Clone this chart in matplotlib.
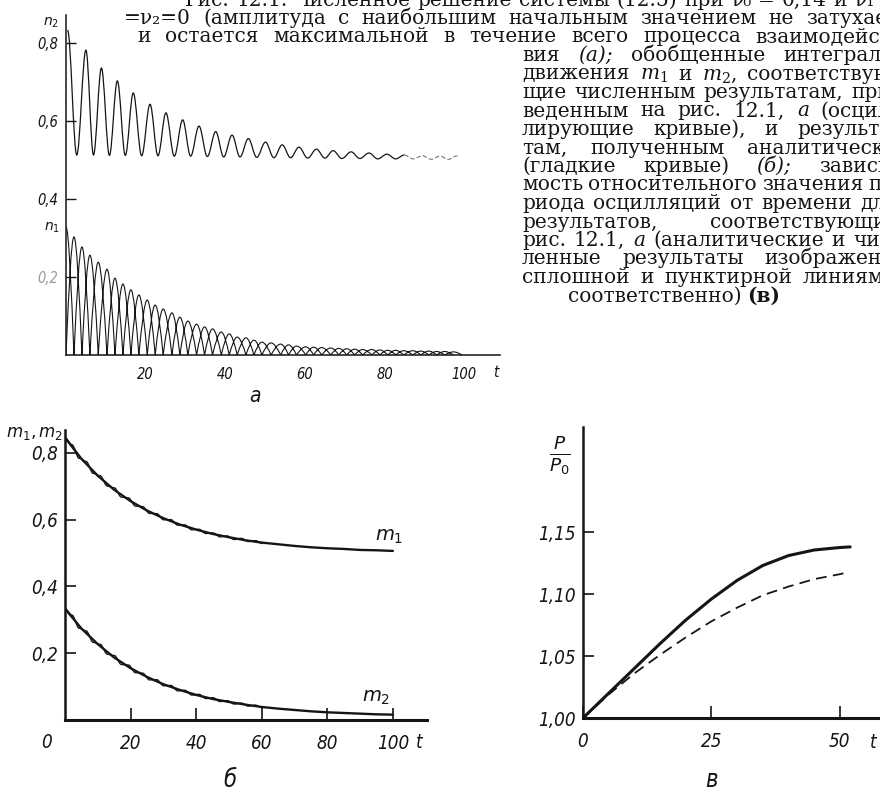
import matplotlib
matplotlib.use('Agg')
import matplotlib.pyplot as plt
from matplotlib import font_manager
from matplotlib.path import Path
from matplotlib.patches import PathPatch

W, H = 880, 795
INK = '#151515'

# ---- panel a: n2 (oscillation extrema) and n1 (lobe peaks)
n2_peak_t = [0.4, 5.0, 8.9, 12.9, 16.9, 21.1, 25.1, 29.3, 33.4, 37.6, 41.7, 45.8,
             50.1, 54.3, 58.5, 62.9, 67.1, 71.6, 76.1, 80.6, 85.0, 89.5, 93.9, 98.3]
n2_peak_v = [0.833, 0.782, 0.736, 0.703, 0.672, 0.643, 0.621, 0.603, 0.587, 0.573, 0.564, 0.555,
             0.546, 0.539, 0.533, 0.528, 0.524, 0.521, 0.518, 0.515, 0.513, 0.511, 0.510, 0.511]
n2_trough_t = [2.7, 6.9, 10.9, 14.9, 19.0, 23.1, 27.2, 31.3, 35.5, 39.6, 43.7, 47.9,
               52.2, 56.4, 60.7, 65.0, 69.3, 73.8, 78.3, 82.8, 87.2, 91.7, 96.1]
n2_trough_v = [0.513, 0.513, 0.512, 0.512, 0.511, 0.511, 0.510, 0.510, 0.509, 0.508, 0.508, 0.507,
               0.506, 0.506, 0.505, 0.505, 0.504, 0.504, 0.503, 0.503, 0.503, 0.502, 0.502]

n1_lobe_t = [0.0, 2.0, 4.0, 6.0, 8.1, 10.3, 12.3, 14.3, 16.3, 18.3, 20.4, 22.4, 24.4, 26.6, 28.6, 30.6,
             32.8, 34.8, 36.8, 39.0, 41.0, 43.0, 45.2, 47.2, 49.2, 51.5, 53.9, 55.9, 57.9, 60.2, 62.2, 64.2,
             66.5, 68.5, 70.5, 72.5, 74.5, 76.8, 78.8, 80.8, 82.8, 84.8, 87.1, 89.1, 91.1, 93.1, 95.1, 97.3]
n1_lobe_v = [0.328, 0.303, 0.277, 0.256, 0.238, 0.220, 0.197, 0.182, 0.167, 0.154,
             0.141, 0.128, 0.118, 0.108, 0.097, 0.087, 0.079, 0.072, 0.067, 0.059,
             0.054, 0.046, 0.044, 0.038, 0.033, 0.031, 0.028, 0.026, 0.023, 0.021,
             0.020, 0.019, 0.018, 0.017, 0.016, 0.015, 0.014, 0.014, 0.013, 0.012,
             0.012, 0.011, 0.011, 0.010, 0.010, 0.009, 0.009, 0.008]

# ---- panel b: smooth integrals m1, m2 and the wavy numerical ones
b_t = [0, 5, 10, 15, 20, 25, 30, 35, 40, 45, 50, 55, 60, 65, 70, 75, 80, 85, 90, 95, 100]
m1_smooth = [0.845, 0.782, 0.731, 0.689, 0.655, 0.627, 0.604, 0.585, 0.570, 0.557, 0.547,
             0.538, 0.531, 0.526, 0.521, 0.517, 0.514, 0.512, 0.509, 0.508, 0.506]
m2_smooth = [0.333, 0.274, 0.227, 0.187, 0.155, 0.129, 0.107, 0.090, 0.075, 0.063, 0.054,
             0.046, 0.039, 0.034, 0.030, 0.026, 0.023, 0.021, 0.019, 0.017, 0.016]
osc_t = [0, 2.15, 4.3, 6.45, 8.6, 10.75, 12.9, 15.05, 17.2, 19.35, 21.5, 23.65, 25.8, 27.95, 30.1,
         32.25, 34.4, 36.55, 38.7, 40.85, 43.0, 45.15, 47.3, 49.45, 51.6, 53.75, 55.9, 58.05, 60.2]
m1_osc = [0.845, 0.824, 0.783, 0.774, 0.738, 0.731, 0.700, 0.695, 0.667, 0.665, 0.640, 0.639,
          0.618, 0.618, 0.599, 0.600, 0.583, 0.584, 0.569, 0.571, 0.558, 0.560, 0.548, 0.551,
          0.540, 0.544, 0.534, 0.537, 0.528]
m2_osc = [0.333, 0.314, 0.2745, 0.2668, 0.2321, 0.2267, 0.1966, 0.1932, 0.166, 0.1648, 0.1414,
          0.1404, 0.1198, 0.121, 0.1022, 0.1037, 0.0871, 0.0892, 0.0745, 0.077, 0.064, 0.0668,
          0.0551, 0.0582, 0.0476, 0.0509, 0.0414, 0.0447, 0.0362]

# ---- panel c: relative period P/P0
c_t = [0, 5, 10, 15, 20, 25, 30, 35, 40, 45, 50, 52]
p_analytic = [1.000, 1.020, 1.040, 1.060, 1.079, 1.096, 1.111, 1.123, 1.131, 1.1355, 1.1375, 1.138]
c_t_num = [0, 5, 10, 15, 20, 25, 30, 35, 40, 45, 50, 51]
p_numeric = [1.000, 1.019, 1.036, 1.051, 1.065, 1.078, 1.089, 1.099, 1.106, 1.112, 1.116, 1.117]

a_xticks = [20, 40, 60, 80, 100]
a_yticks = [0.2, 0.4, 0.6, 0.8]
b_xticks = [20, 40, 60, 80, 100]
b_yticks = [0.2, 0.4, 0.6, 0.8]
c_xticks = [0, 25, 50]
c_yticks = [1.00, 1.05, 1.10, 1.15]

# caption lines: start x (px), text, justified?  (~word = italic, *word = bold)
body_lines = [
    (185, "Рис. 12.1. Численное решение системы (12.5) при ν₀ = 0,14 и ν₁ =", True),
    (124, "=ν₂=0 (амплитуда с наибольшим начальным значением не затухает", True),
    (137, "и остается максимальной в течение всего процесса взаимодейст-", True),
    (522, "вия ~(а); обобщенные интегралы", True),
    (522, "движения $m_1$ и $m_2$, соответствую-", True),
    (522, "щие численным результатам, при-", True),
    (522, "веденным на рис. 12.1, ~а (осцил-", True),
    (522, "лирующие кривые), и результа-", True),
    (522, "там, полученным аналитически", True),
    (522, "(гладкие кривые) ~(б); зависи-", True),
    (522, "мость относительного значения пе-", True),
    (522, "риода осцилляций от времени для", True),
    (522, "результатов, соответствующих", True),
    (522, "рис. 12.1, ~а (аналитические и чис-", True),
    (522, "ленные результаты изображены", True),
    (522, "сплошной и пунктирной линиями", True),
    (568, "соответственно) *(в)", False),
]

# narrow italic face for the axis numbers, if one is installed
_faces = font_manager.fontManager.ttflist
if any(f.name == 'Liberation Sans Narrow' for f in _faces):
    LFAM, LSTRETCH = ['Liberation Sans Narrow'], 'normal'
elif any(f.name == 'DejaVu Sans' and f.stretch == 'condensed' for f in _faces):
    LFAM, LSTRETCH = ['DejaVu Sans'], 'condensed'
else:
    LFAM, LSTRETCH = ['Liberation Sans'], 'normal'
LKW = dict(family=LFAM, style='italic', stretch=LSTRETCH, color=INK)

fig = plt.figure(figsize=(W / 100, H / 100), dpi=100)
fig.patch.set_facecolor('white')


def add_ax(x0, y0, x1, y1):
    ax = fig.add_axes([x0 / W, 1 - y1 / H, (x1 - x0) / W, (y1 - y0) / H])
    ax.patch.set_visible(False)
    ax.spines['top'].set_visible(False)
    ax.spines['right'].set_visible(False)
    return ax


def style_labels(ax, size):
    for lbl in ax.get_xticklabels() + ax.get_yticklabels():
        lbl.set_fontfamily(LFAM)
        lbl.set_fontstyle('italic')
        lbl.set_fontstretch(LSTRETCH)
        lbl.set_fontsize(size)
        lbl.set_color(INK)


def comma(v, nd):
    return f"{v:.{nd}f}".replace('.', ',')


def wave_path(ts, vs):
    # smooth swing between consecutive extrema (flat tangent at each)
    verts = [(ts[0], vs[0])]
    codes = [Path.MOVETO]
    for i in range(1, len(ts)):
        dt = ts[i] - ts[i - 1]
        verts += [(ts[i - 1] + 0.36 * dt, vs[i - 1]), (ts[i] - 0.36 * dt, vs[i]), (ts[i], vs[i])]
        codes += [Path.CURVE4] * 3
    return Path(verts, codes)


def lobes_path(ts, amps):
    verts, codes = [], []
    for k in range(len(ts)):
        A = amps[k]
        if k == 0:
            verts.append((ts[0], A))
            codes.append(Path.MOVETO)
        else:
            h = ts[k] - ts[k - 1]
            a = ts[k - 1]
            verts += [(a, 0), (a + h / 3, 0.52 * A), (a + 2 * h / 3, A), (ts[k], A)]
            codes += [Path.MOVETO] + [Path.CURVE4] * 3
        h = ts[k + 1] - ts[k] if k < len(ts) - 1 else ts[k] - ts[k - 1]
        verts += [(ts[k] + h / 3, A), (ts[k] + 2 * h / 3, 0.52 * A), (ts[k] + h, 0)]
        codes += [Path.CURVE4] * 3
    return Path(verts, codes)


# ================= panel a
ax_a = add_ax(66, 15, 500, 355)
ax_a.set_xlim(0, 109)
ax_a.set_ylim(0, 0.872)
for s in ('left', 'bottom'):
    ax_a.spines[s].set_linewidth(1.1)
    ax_a.spines[s].set_color(INK)

n2_t, n2_v = [], []
for i in range(len(n2_peak_t)):
    n2_t.append(n2_peak_t[i])
    n2_v.append(n2_peak_v[i])
    if i < len(n2_trough_t):
        n2_t.append(n2_trough_t[i])
        n2_v.append(n2_trough_v[i])
ax_a.add_patch(PathPatch(wave_path(n2_t[:41], n2_v[:41]), fill=False, lw=0.9, ec=INK))
ax_a.add_patch(PathPatch(wave_path(n2_t[40:], n2_v[40:]), fill=False, lw=0.8, ec='#777777',
                         ls=(0, (4, 2))))
ax_a.add_patch(PathPatch(lobes_path(n1_lobe_t, n1_lobe_v), fill=False, lw=0.8, ec=INK))

ax_a.set_xticks(a_xticks)
ax_a.set_xticklabels([str(v) for v in a_xticks])
ax_a.set_yticks(a_yticks)
ax_a.set_yticklabels([comma(v, 1) for v in a_yticks])
ax_a.tick_params(axis='x', length=0, pad=8.5)
ax_a.tick_params(axis='y', direction='in', length=7, width=1, pad=5.5, color=INK)
style_labels(ax_a, 10.5)
ax_a.get_yticklabels()[0].set_color('#9a9a9a')
ax_a.text(108, -0.044, 't', fontsize=11, ha='center', va='center', **LKW)
ax_a.text(-3.8, 0.852, '$n_2$', fontsize=10, color=INK, ha='center', va='center',
          math_fontfamily='dejavusans')
ax_a.text(-3.5, 0.326, '$n_1$', fontsize=10, color=INK, ha='center', va='center',
          math_fontfamily='dejavusans')
fig.text(255 / W, 1 - 396 / H, 'а', fontsize=15, ha='center', va='center', **LKW)

# ================= panel b
ax_b = add_ax(65, 430, 427, 720)
ax_b.set_xlim(0, 110.4)
ax_b.set_ylim(0, 0.868)
ax_b.spines['left'].set_linewidth(1.8)
ax_b.spines['bottom'].set_linewidth(2.2)
for s in ('left', 'bottom'):
    ax_b.spines[s].set_color(INK)
ax_b.plot(b_t, m1_smooth, color=INK, lw=1.7, solid_capstyle='round')
ax_b.plot(b_t, m2_smooth, color=INK, lw=1.7, solid_capstyle='round')
ax_b.add_patch(PathPatch(wave_path(osc_t, m1_osc), fill=False, lw=0.9, ec=INK))
ax_b.add_patch(PathPatch(wave_path(osc_t, m2_osc), fill=False, lw=0.9, ec=INK))
ax_b.set_xticks(b_xticks)
ax_b.set_xticklabels([str(v) for v in b_xticks])
ax_b.set_yticks(b_yticks)
ax_b.set_yticklabels([comma(v, 1) for v in b_yticks])
ax_b.tick_params(axis='x', direction='in', length=9, width=1.2, pad=10, color=INK)
ax_b.tick_params(axis='y', direction='in', length=8, width=1.2, pad=5, color=INK)
style_labels(ax_b, 13.5)
ax_b.text(-5.5, -0.066, '0', fontsize=13.5, ha='center', va='center', **LKW)
ax_b.text(108, -0.066, 't', fontsize=13.5, ha='center', va='center', **LKW)
ax_b.text(-0.5, 0.86, '$m_1,m_2$', fontsize=12, color=INK, ha='right', va='center',
          math_fontfamily='dejavusans')
ax_b.text(99, 0.548, '$m_1$', fontsize=14, color=INK, ha='center', va='center',
          math_fontfamily='dejavusans')
ax_b.text(95, 0.068, '$m_2$', fontsize=14, color=INK, ha='center', va='center',
          math_fontfamily='dejavusans')
fig.text(230 / W, 1 - 780 / H, 'б', fontsize=17, ha='center', va='center', **LKW)

# ================= panel c
ax_c = add_ax(583, 427, 900, 718)
ax_c.set_xlim(0, 61.7)
ax_c.set_ylim(1.0, 1.2347)
ax_c.spines['left'].set_linewidth(1.8)
ax_c.spines['bottom'].set_linewidth(2.2)
for s in ('left', 'bottom'):
    ax_c.spines[s].set_color(INK)
ax_c.plot(c_t, p_analytic, color=INK, lw=2.2, solid_capstyle='round')
ax_c.plot(c_t_num, p_numeric, color=INK, lw=1.3, dashes=(6, 3.5))
ax_c.set_xticks(c_xticks)
ax_c.set_xticklabels([str(v) for v in c_xticks])
ax_c.set_yticks(c_yticks)
ax_c.set_yticklabels([comma(v, 2) for v in c_yticks])
ax_c.tick_params(axis='x', direction='in', length=9, width=1.2, pad=10, color=INK)
ax_c.tick_params(axis='y', direction='in', length=8, width=1.2, pad=5, color=INK)
style_labels(ax_c, 13.5)
ax_c.text(56.4, 0.9806, 't', fontsize=13.5, ha='center', va='center', **LKW)
ax_c.text(-4.5, 1.212, r'$\frac{P}{P_0}$', fontsize=19, color=INK, ha='center', va='center',
          math_fontfamily='dejavusans')
fig.text(711 / W, 1 - 780 / H, 'в', fontsize=17, ha='center', va='center', **LKW)

# ================= caption text, justified word by word
renderer = fig.canvas.get_renderer()
RIGHT = 898
for i, (x0, line, justify) in enumerate(body_lines):
    y = 0.5 + 18.5 * i + 5
    texts = []
    for w in line.split(' '):
        style, weight = 'normal', 'normal'
        if w.startswith('~'):
            w, style = w[1:], 'italic'
        elif w.startswith('*'):
            w, weight = w[1:], 'bold'
        texts.append(fig.text(0, 0, w, fontsize=14.5, family='DejaVu Serif', style=style,
                              weight=weight, color=INK, va='baseline',
                              math_fontfamily='dejavuserif'))
    widths = [t.get_window_extent(renderer).width for t in texts]
    x1 = RIGHT if justify else 760
    gap = (x1 - x0 - sum(widths)) / max(len(texts) - 1, 1)
    gap = max(gap, 5)
    x = x0
    for t, w in zip(texts, widths):
        t.set_position((x / W, 1 - y / H))
        x += w + gap

fig.savefig('out.png', dpi=100, facecolor='white')
